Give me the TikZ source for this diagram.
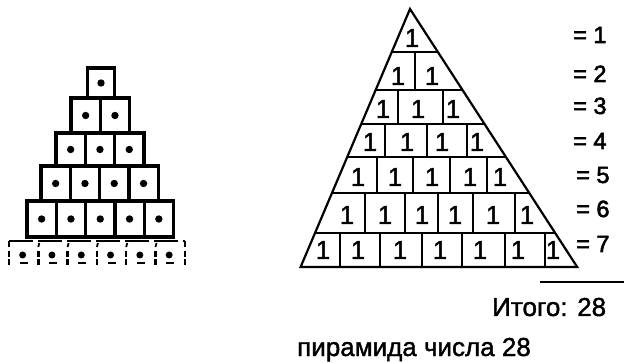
\documentclass[tikz,border=0pt]{standalone}
\usepackage{fontspec}
\setmainfont[FakeBold=1.5]{Liberation Sans}
\newfontfamily\heavyf[FakeBold=2.5]{Liberation Sans}
\begin{document}
\begin{tikzpicture}[x=1pt,y=-1pt,
  sq/.style={draw=black,line width=3.2pt},
  dotf/.style={fill=black},
  tri/.style={draw=black,line width=2.2pt,line join=miter},
  one/.style={font=\fontsize{26}{26}\selectfont,anchor=base,inner sep=0pt},
  eqlab/.style={font=\heavyf\fontsize{23.5}{23.5}\selectfont,anchor=base west,inner sep=0pt},
  txt/.style={font=\fontsize{26}{26}\selectfont,anchor=base west,inner sep=0pt}]
\useasboundingbox (0,0) rectangle (624,363);
% ---------- left pyramid ----------
\draw[sq] (87.5,68) rectangle (114.5,98);
\fill[dotf] (101,83) circle[radius=3.7pt];
\foreach \n/\l/\t/\b in {2/71/98/133, 3/56/133/166, 4/41/166/201, 5/27/201/237}{
  \foreach \i in {1,...,\n}{
    \draw[sq] ({\l+(\i-1)*29.3},\t) rectangle ({\l+\i*29.3},\b);
    \fill[dotf] ({\l+(\i-0.5)*29.3},{(\t+\b)/2}) circle[radius=3.7pt];
  }
}
% dashed bottom row
\draw[line width=2pt,dash pattern=on 24pt off 5pt] (9,241) -- (185,241);
\draw[line width=2pt] (9,241) -- (9,247);
\draw[line width=2pt] (185,241) -- (185,247);
\foreach \i in {0,...,6}{
  \draw[line width=2.4pt,dash pattern=on 6pt off 2pt] ({9+\i*29.3},251) -- ({9+\i*29.3},266);
}
\foreach \i in {1,...,5}{
  \draw[line width=1.8pt] ({9+\i*29.3+1},243) -- ({9+\i*29.3},247);
}
\foreach \i in {0,...,5}{
  \fill[dotf] ({9+(\i+0.5)*29.3-1},255) circle[radius=3.5pt];
  \draw[line width=1.8pt] ({9+(\i+0.5)*29.3-4},263) -- ({9+(\i+0.5)*29.3+4},263);
}
% ---------- triangle ----------
\coordinate (A) at (410,9);
\coordinate (BL) at (300.6,267);
\coordinate (BR) at (577.2,267);
\draw[tri] (BL) -- (A) -- (BR) -- cycle;
\draw[tri] (391.8,52) -- (437.9,52);
\draw[tri] (375.7,90) -- (462.5,90);
\draw[tri] (361.2,124) -- (484.5,124);
\draw[tri] (347.2,157) -- (505.9,157);
\draw[tri] (332.0,193) -- (529.2,193);
\draw[tri] (315.0,233) -- (555.2,233);
% dividers
\foreach \x in {415}{\draw[tri] (\x,52) -- (\x,90);}
\foreach \x in {398,443}{\draw[tri] (\x,90) -- (\x,124);}
\foreach \x in {385,427,467}{\draw[tri] (\x,124) -- (\x,157);}
\foreach \x in {377,413,450,487}{\draw[tri] (\x,157) -- (\x,193);}
\foreach \x in {365,405,438,473,515}{\draw[tri] (\x,193) -- (\x,233);}
\foreach \x in {340,380,422,462,505,545}{\draw[tri] (\x,233) -- (\x,267);}
% ones
\foreach \x/\y in {412/47,
  398/85, 432/85,
  383/118, 418/118, 453/118,
  370/151, 407/151, 442/151, 477/151,
  358/186, 395/186, 432/186, 470/186, 500/186,
  347/224, 385/224, 422/224, 455/224, 493/224, 527/224,
  323/259, 358/259, 400/259, 440/259, 480/259, 518/259, 553/259}{
  \node[one] at (\x,\y) {1};
}
% ---------- right labels ----------
\node[eqlab] (e1) at (573,43) {= 1};
\node[eqlab] (e2) at (573,82) {= 2};
\node[eqlab] (e3) at (573,114) {= 3};
\node[eqlab] (e4) at (573,149) {= 4};
\node[eqlab] (e5) at (576,183) {= 5};
\node[eqlab] (e6) at (576,217) {= 6};
\node[eqlab] (e7) at (576,252) {= 7};
\draw[line width=1.8pt] (540,282) -- (624,282);
\node[txt] (total) at (492,316) {Итого: 28};
\node[txt] (caption) at (297,356) {пирамида числа 28};
\end{tikzpicture}
\end{document}
